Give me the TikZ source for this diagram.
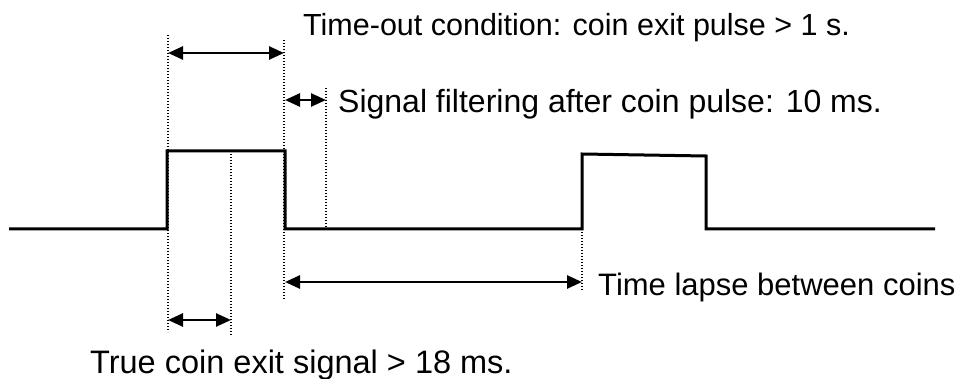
\documentclass[tikz,border=0pt]{standalone}
\usepackage{fontspec}
\setmainfont{Liberation Sans}
\usetikzlibrary{arrows.meta}
\begin{document}
\begin{tikzpicture}[x=1pt,y=-1pt,
  sig/.style={line width=3pt, line join=miter},
  guide/.style={line width=1.4pt, dash pattern=on 1.4pt off 1.6pt},
  span/.style={line width=2.6pt,
    {Triangle[length=15pt,width=13pt]}-{Triangle[length=15pt,width=13pt]}},
  lbl/.style={inner sep=0pt, anchor=base west},
  fs/.style={font=\fontsize{#1}{#1}\selectfont}]
\useasboundingbox (0,0) rectangle (974,379);

% coin pulse signal
\draw[sig] (9,229) -- (167,229) -- (167,151) -- (285,151) -- (285,229)
  -- (582,229) -- (582,154) -- (706,156) -- (706,229) -- (935,229);

% guide line end points
\coordinate (g1t) at (168,35);  \coordinate (g1b) at (168,332);
\coordinate (g2t) at (284,40);  \coordinate (g2b) at (284,300);
\coordinate (g3t) at (326,88);  \coordinate (g3b) at (326,228);
\coordinate (g4t) at (231,151); \coordinate (g4b) at (231,335);
\coordinate (g5t) at (582,229); \coordinate (g5b) at (582,290);

\draw[guide] (g1t) -- (g1b);
\draw[guide] (g2t) -- (g2b);
\draw[guide] (g3t) -- (g3b);
\draw[guide] (g4t) -- (g4b);
\draw[guide] (g5t) -- (g5b);

% dimension arrows between guides
\coordinate (a1l) at (168,53);  \coordinate (a1r) at (284,53);
\coordinate (a2l) at (285,100); \coordinate (a2r) at (326,100);
\coordinate (a3l) at (285,282); \coordinate (a3r) at (582,282);
\coordinate (a4l) at (168,320); \coordinate (a4r) at (231,320);

\draw[span] (a1l) -- (a1r);
\draw[span] (a2l) -- (a2r);
\draw[span] (a3l) -- (a3r);
\draw[span] (a4l) -- (a4r);

% labels
\node[lbl, fs=30.5] (t1) at (303,36) {Time-out condition: coin exit pulse > 1 s.};
\node[lbl, fs=32] (t2) at (338,113) {Signal filtering after coin pulse: 10 ms.};
\node[lbl, fs=31] (t3) at (598,295) {Time lapse between coins};
\node[lbl, fs=32.5] (t4) at (90,373) {True coin exit signal > 18 ms.};
\end{tikzpicture}
\end{document}
